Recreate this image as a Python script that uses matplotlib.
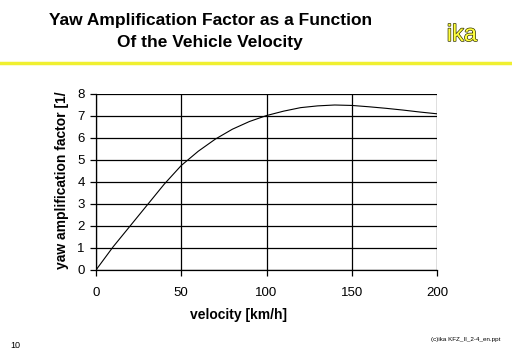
import matplotlib
matplotlib.use("Agg")
import matplotlib.pyplot as plt
import matplotlib.patheffects as pe

velocity = [0, 10, 20, 30, 40, 50, 60, 70, 80, 90, 100, 110, 120, 130, 140, 150, 160, 170, 180, 190, 200]
yaw_factor = [0.0, 1.05, 2.0, 2.95, 3.9, 4.75, 5.4, 5.95, 6.4, 6.75, 7.02, 7.22, 7.38, 7.46, 7.5, 7.48, 7.42, 7.35, 7.27, 7.18, 7.1]
x_ticks = [0, 50, 100, 150, 200]
y_ticks = [0, 1, 2, 3, 4, 5, 6, 7, 8]

plt.rcParams['font.family'] = ['Liberation Sans', 'DejaVu Sans']

fig = plt.figure(figsize=(5.12, 3.54), dpi=100)
ax = fig.add_axes([96/512, 1-270/354, (437-96)/512, (270-94)/354])

ax.plot(velocity, yaw_factor, color='black', lw=0.8)
ax.set_xlim(0, 200)
ax.set_ylim(0, 8)
ax.set_xticks(x_ticks)
ax.set_yticks(y_ticks)
ax.grid(True, color='black', lw=0.9)
for s in ax.spines.values():
    s.set_linewidth(0.9)
ax.spines['top'].set_visible(False)
ax.spines['right'].set_visible(False)
ax.tick_params(direction='out', length=4, width=0.9, labelsize=9.5, pad=8)
ax.tick_params(axis='y', pad=4)
ax.set_xlabel('velocity [km/h]', fontsize=10, fontweight='bold')
ax.xaxis.set_label_coords((239-96)/(437-96), -(315-270)/(270-94))
ax.xaxis.label.set_va('center')
ax.set_ylabel('yaw amplification factor [1/', fontsize=10, fontweight='bold')
ax.yaxis.set_label_coords((62-96)/(437-96), (270-180.5)/(270-94))
ax.yaxis.label.set_va('center')

fig.text(211/512, 1-21/354, 'Yaw Amplification Factor as a Function', ha='center', va='center',
         fontsize=12.5, fontweight='bold')
fig.text(210/512, 1-43/354, 'Of the Vehicle Velocity', ha='center', va='center',
         fontsize=12.5, fontweight='bold')
fig.text(462/512, 1-35/354, 'ika', ha='center', va='center', fontsize=17, color='#ffff40',
         path_effects=[pe.withStroke(linewidth=1.0, foreground='#333300')])
fig.add_artist(plt.Line2D([0, 1], [1-63/354, 1-63/354], color='#f0f030', lw=2.5, transform=fig.transFigure))
fig.text(15/512, 1-346/354, '10', ha='center', va='center', fontsize=6.5)
fig.text(466/512, 1-340/354, '(c)ika KFZ_II_2-4_en.ppt', ha='center', va='center', fontsize=4.5)

fig.savefig('out.png', dpi=100)
